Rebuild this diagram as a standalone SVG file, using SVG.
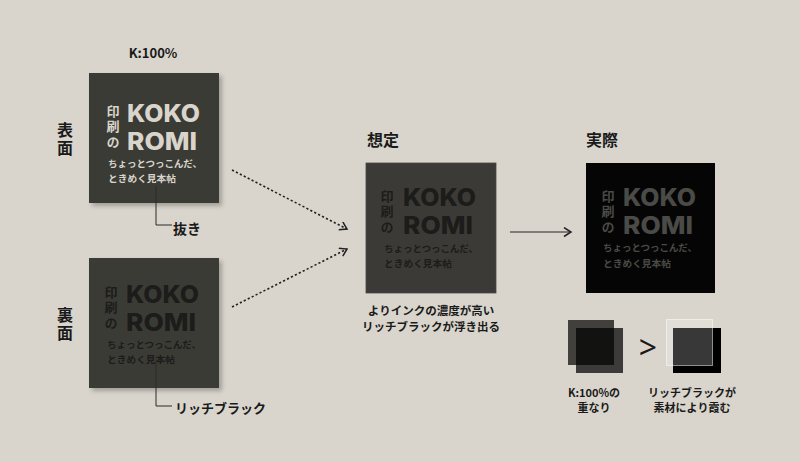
<svg xmlns="http://www.w3.org/2000/svg" width="800" height="462" viewBox="0 0 800 462">
<style>
.jp{font-family:"Noto Sans CJK JP","Noto Sans",sans-serif;font-weight:700;fill:#1a1a1a}
.vt{font-family:"Noto Sans CJK JP","Noto Sans",sans-serif;font-weight:700;fill:#1a1a1a;font-size:16px;writing-mode:vertical-rl;letter-spacing:2px}
.lat{font-family:"Inter","Noto Sans",sans-serif;font-weight:800}
.v{font-family:"Noto Sans CJK JP",sans-serif;font-size:13px;font-weight:700;writing-mode:vertical-rl;letter-spacing:2.5px}
.big{font-size:24px}
.sub{font-family:"Noto Sans CJK JP",sans-serif;font-size:9.5px;font-weight:700}
.card{fill:#3b3a36}
.lead{fill:none;stroke:#2a2a2a;stroke-width:1}
.dot{fill:none;stroke:#222;stroke-width:1.6;stroke-dasharray:2.2 2.2}
</style>
<defs>
<filter id="sh" x="-10%" y="-10%" width="130%" height="130%">
<feDropShadow dx="3" dy="3" stdDeviation="2" flood-color="#000" flood-opacity="0.25"/>
</filter>
<marker id="ah" markerWidth="12" markerHeight="12" refX="9" refY="5" orient="auto" markerUnits="userSpaceOnUse">
<path d="M2,0.5 L9,5 L2,9.5" fill="none" stroke="#222" stroke-width="1.5" stroke-dasharray="none"/>
</marker>
</defs>
<rect width="800" height="462" fill="#d9d5cc"/>

<g id="labels">
<text class="jp" x="153" y="58" font-size="13" text-anchor="middle">K:100%</text>
<text class="vt" x="65" y="122">表面</text>
<text class="vt" x="65" y="307">裏面</text>
<text class="jp" x="367" y="146" font-size="16">想定</text>
<text class="jp" x="586" y="146" font-size="16">実際</text>
<text class="jp" x="431" y="315" font-size="11.5" text-anchor="middle">よりインクの濃度が高い</text>
<text class="jp" x="431" y="331" font-size="11.5" text-anchor="middle">リッチブラックが浮き出る</text>
<text class="jp" x="173" y="234" font-size="14">抜き</text>
<text class="jp" x="175" y="413" font-size="13">リッチブラック</text>
<text class="jp" x="594" y="397" font-size="11" text-anchor="middle">K:100%の</text>
<text class="jp" x="594" y="412" font-size="11" text-anchor="middle">重なり</text>
<text class="jp" x="692" y="397" font-size="11" text-anchor="middle">リッチブラックが</text>
<text class="jp" x="692" y="412" font-size="11" text-anchor="middle">素材により霞む</text>
</g>

<g id="card-front" transform="translate(89,73)">
<rect class="card" width="130" height="130" filter="url(#sh)"/>
<g fill="#d9d5cc" transform="translate(1,5)">
<text class="v" x="23" y="26.5">印刷の</text>
<text class="lat big" x="37" y="44" textLength="73" lengthAdjust="spacingAndGlyphs">KOKO</text>
<text class="lat big" x="37" y="72" textLength="70" lengthAdjust="spacingAndGlyphs">ROMI</text>
<text class="sub" x="18" y="89" textLength="94" lengthAdjust="spacingAndGlyphs">ちょっとつっこんだ、</text>
<text class="sub" x="18" y="104" textLength="68" lengthAdjust="spacingAndGlyphs">ときめく見本帖</text>
</g>
</g>

<g id="card-back" transform="translate(89,258)">
<rect class="card" width="130" height="130" filter="url(#sh)"/>
<g fill="#1c1c1a" transform="translate(0,1)">
<text class="v" x="22" y="26.5">印刷の</text>
<text class="lat big" x="37" y="44" textLength="73" lengthAdjust="spacingAndGlyphs">KOKO</text>
<text class="lat big" x="37" y="72" textLength="70" lengthAdjust="spacingAndGlyphs">ROMI</text>
<text class="sub" x="18" y="89" textLength="94" lengthAdjust="spacingAndGlyphs">ちょっとつっこんだ、</text>
<text class="sub" x="18" y="104" textLength="68" lengthAdjust="spacingAndGlyphs">ときめく見本帖</text>
</g>
</g>

<g id="card-expected" transform="translate(366,163)">
<rect class="card" width="130" height="130" stroke="#4a4944" stroke-width="0.8"/>
<g fill="#1c1c1a">
<text class="v" x="21" y="26.5">印刷の</text>
<text class="lat big" x="37" y="43" textLength="73" lengthAdjust="spacingAndGlyphs">KOKO</text>
<text class="lat big" x="37" y="71" textLength="70" lengthAdjust="spacingAndGlyphs">ROMI</text>
<text class="sub" x="18" y="89" textLength="94" lengthAdjust="spacingAndGlyphs">ちょっとつっこんだ、</text>
<text class="sub" x="18" y="104" textLength="68" lengthAdjust="spacingAndGlyphs">ときめく見本帖</text>
</g>
</g>

<g id="card-actual" transform="translate(586,163)">
<rect width="129" height="130" fill="#050505"/>
<g fill="#4a4a47">
<text class="v" x="22" y="26.5">印刷の</text>
<text class="lat big" x="37" y="43" textLength="73" lengthAdjust="spacingAndGlyphs">KOKO</text>
<text class="lat big" x="37" y="71" textLength="70" lengthAdjust="spacingAndGlyphs">ROMI</text>
<text class="sub" x="17" y="88" textLength="94" lengthAdjust="spacingAndGlyphs">ちょっとつっこんだ、</text>
<text class="sub" x="17" y="104" textLength="68" lengthAdjust="spacingAndGlyphs">ときめく見本帖</text>
</g>
</g>

<g id="overlap-k100">
<rect x="568" y="320" width="46" height="45" fill="#000" fill-opacity="0.7"/>
<rect x="576" y="328" width="47" height="45" fill="#000" fill-opacity="0.72"/>
</g>
<text x="648" y="359" font-family="Noto Sans, sans-serif" font-size="32" fill="#1a1a1a" text-anchor="middle">&gt;</text>
<g id="overlap-rich">
<rect x="673" y="328" width="48" height="45" fill="#000"/>
<rect x="666.5" y="319.5" width="46" height="46" fill="#fff" fill-opacity="0.22" stroke="#fff" stroke-opacity="0.5" stroke-width="1"/>
</g>

<g id="connectors">
<path class="lead" d="M156,186 V225 H172"/>
<path class="lead" d="M156,362 V406 H172"/>
<path class="dot" d="M232,170 L347,229" marker-end="url(#ah)"/>
<path class="dot" d="M232,307 L347,249" marker-end="url(#ah)"/>
<path fill="none" stroke="#222" stroke-width="1.2" d="M510,232 L571,232" marker-end="url(#ah)"/>
</g>
</svg>
